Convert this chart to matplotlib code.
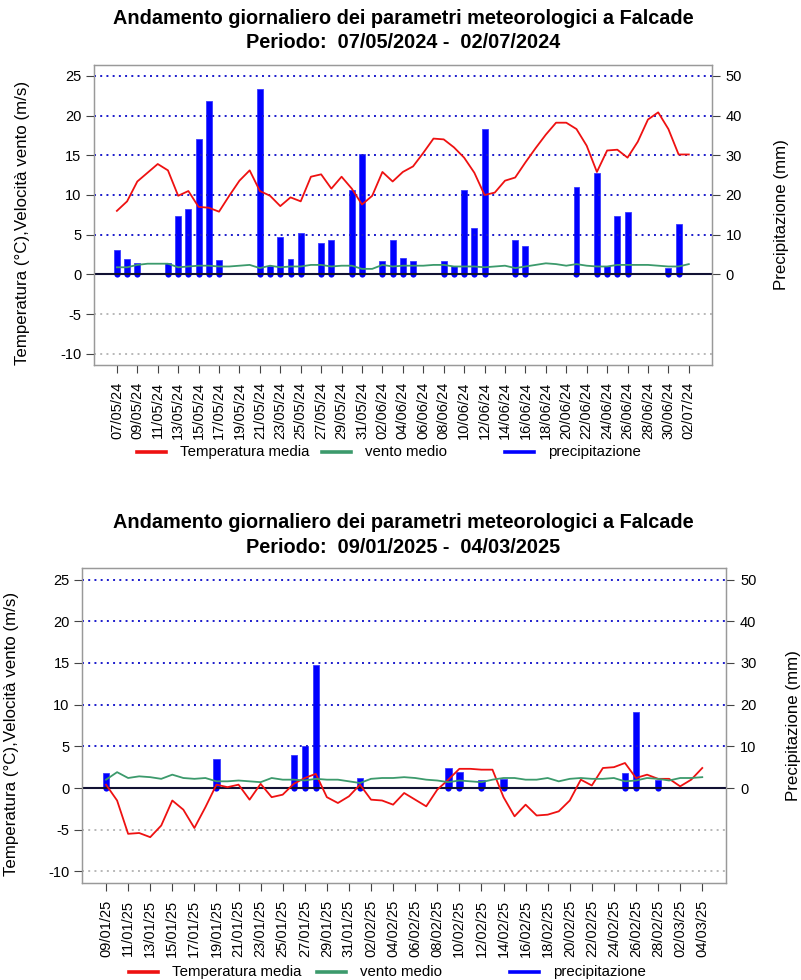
import pandas as pd
import matplotlib
matplotlib.use("Agg")
import matplotlib.pyplot as plt
from matplotlib.lines import Line2D

plt.rcParams['font.family'] = ['Liberation Sans', 'DejaVu Sans']

# periodo 1: 07/05/2024 - 02/07/2024
start_1 = "2024-05-07"
temp_1 = [8.0, 9.2, 11.7, 12.8, 13.9, 13.1, 9.9, 10.5, 8.5, 8.4,
          7.9, 9.9, 11.8, 13.1, 10.5, 9.9, 8.6, 9.7, 9.2, 12.3,
          12.6, 10.8, 12.3, 10.8, 8.8, 9.9, 12.9, 11.7, 12.9, 13.6,
          15.3, 17.1, 17.0, 16.0, 14.7, 12.8, 10.0, 10.3, 11.8, 12.2,
          14.1, 15.9, 17.6, 19.1, 19.1, 18.3, 16.2, 12.9, 15.6, 15.7,
          14.7, 16.7, 19.5, 20.4, 18.3, 15.1, 15.1]
vento_1 = [0.9, 0.9, 1.2, 1.35, 1.35, 1.35, 0.9, 1.0, 1.1, 1.1,
           1.0, 1.0, 1.1, 1.2, 0.8, 1.1, 0.9, 1.0, 1.0, 1.2,
           1.2, 1.0, 1.1, 1.1, 0.7, 0.7, 1.2, 1.0, 1.1, 1.1,
           1.1, 1.2, 1.2, 1.0, 1.0, 1.0, 0.9, 1.0, 1.1, 0.8,
           1.0, 1.2, 1.4, 1.3, 1.1, 1.3, 1.1, 1.0, 1.0, 1.2,
           1.2, 1.2, 1.2, 1.1, 1.0, 1.0, 1.3]
prec_1 = [6.1, 3.9, 2.9, 0, 0, 2.9, 14.7, 16.4, 34.2, 43.6,
          3.7, 0, 0, 0, 46.7, 2.2, 9.4, 3.9, 10.4, 0,
          7.8, 8.7, 0, 21.2, 30.2, 0, 3.4, 8.7, 4.1, 3.4,
          0, 0, 3.5, 2.2, 21.2, 11.6, 36.7, 0, 0, 8.6,
          7.1, 0, 0, 0, 0, 22.1, 0, 25.5, 2.1, 14.7,
          15.6, 0, 0, 0, 1.7, 12.6, 0]

# periodo 2: 09/01/2025 - 04/03/2025
start_2 = "2025-01-09"
temp_2 = [0.4, -1.5, -5.5, -5.4, -5.9, -4.5, -1.5, -2.6, -4.8, -2.3,
          0.4, 0.1, 0.4, -1.4, 0.5, -1.1, -0.8, 0.5, 1.2, 1.7,
          -1.1, -1.8, -1.0, 0.4, -1.4, -1.5, -2.0, -0.6, -1.4, -2.2,
          -0.2, 1.0, 2.3, 2.3, 2.2, 2.2, -1.1, -3.4, -2.0, -3.3,
          -3.2, -2.8, -1.5, 1.0, 0.3, 2.4, 2.5, 3.0, 1.2, 1.6,
          1.1, 1.1, 0.2, 1.0, 2.4]
vento_2 = [1.0, 1.9, 1.2, 1.4, 1.3, 1.1, 1.6, 1.2, 1.1, 1.2,
           0.8, 0.8, 0.9, 0.8, 0.7, 1.2, 1.0, 1.0, 0.9, 1.1,
           1.0, 1.0, 0.8, 0.6, 1.1, 1.2, 1.2, 1.3, 1.2, 1.0,
           0.9, 0.7, 0.9, 0.8, 0.7, 1.0, 1.2, 1.2, 1.0, 1.0,
           1.2, 0.8, 1.1, 1.2, 1.1, 1.1, 1.2, 0.8, 0.9, 1.2,
           1.1, 0.9, 1.2, 1.2, 1.3]
prec_2 = [3.5, 0, 0, 0, 0, 0, 0, 0, 0, 0,
          6.9, 0, 0, 0, 0, 0, 0, 8.0, 10.0, 29.6,
          0, 0, 0, 2.5, 0, 0, 0, 0, 0, 0,
          0, 4.7, 3.9, 0, 1.9, 0, 2.2, 0, 0, 0,
          0, 0, 0, 0, 0, 0, 0, 3.5, 18.3, 0,
          2.0, 0, 0, 0, 0]

title_1 = "Andamento giornaliero dei parametri meteorologici a Falcade"
periodo_1 = "Periodo:  07/05/2024 -  02/07/2024"
periodo_2 = "Periodo:  09/01/2025 -  04/03/2025"

W, H = 801, 980
fig = plt.figure(figsize=(W / 100, H / 100), dpi=100)


def fx(px):
    return px / W


def fy(py):
    return 1 - py / H


def panel(rect, start, temp, vento, prec, periodo, t_y, leg_y, leg_x, lab_x):
    n = len(temp)
    days = list(range(n))
    dates = pd.date_range(start, periods=n, freq="D")
    l, t, r, b = rect
    ax = fig.add_axes([fx(l), fy(b), fx(r) - fx(l), fy(t) - fy(b)])
    ax2 = ax.twinx()

    pad = 0.04 * (n - 1)
    ax.set_xlim(-pad, n - 1 + pad)
    ax.set_ylim(-11.4, 26.4)
    ax2.set_ylim(-22.8, 52.8)

    for v in [5, 10, 15, 20, 25]:
        ax.axhline(v, color="#1a1acc", lw=1.4, ls=(0, (1, 2.2)), zorder=1)
    for v in [-5, -10]:
        ax.axhline(v, color="#b8b8b8", lw=1.4, ls=(0, (1, 2.2)), zorder=1)
    ax.axhline(0, color="#111133", lw=1.5, zorder=2)

    ax2.bar(days, prec, width=0.58, color="#0000ff", edgecolor="#3a3aff",
            lw=0.6, zorder=3)
    # round foot of each rain bar, as in the original
    wet = [d for d in days if prec[d] > 0]
    ax2.scatter(wet, [0] * len(wet), s=20, color="#0000ff", lw=0, zorder=3)
    ax.plot(days, temp, color="#ee1111", lw=1.3, zorder=4)
    ax.plot(days, vento, color="#3c9a6c", lw=1.3, zorder=4)
    ax.set_zorder(ax2.get_zorder() + 1)
    ax.patch.set_visible(False)

    ax.set_yticks([-10, -5, 0, 5, 10, 15, 20, 25])
    ax.set_yticklabels(["-10", "-5", "0", "5", "10", "15", "20", "25"])
    ax2.set_yticks([0, 10, 20, 30, 40, 50])
    ticks = days[::2]
    ax.set_xticks(ticks)
    ax.set_xticklabels([dates[i].strftime("%d/%m/%y") for i in ticks],
                       rotation=90)
    for a in (ax, ax2):
        a.tick_params(axis="both", labelsize=10.5, length=6, width=0.8,
                      color="#444444", direction="out")
        for s in a.spines.values():
            s.set_color("#999999")
            s.set_linewidth(0.9)
    ax.tick_params(axis="x", pad=6)
    ax.tick_params(axis="y", pad=3)
    ax2.tick_params(axis="y", pad=4)

    ymid = fy((t + b) / 2)
    ax.set_ylabel("Temperatura (°C),Velocità vento (m/s)", fontsize=12.2)
    ax2.set_ylabel("Precipitazione (mm)", fontsize=12.2)
    ax.yaxis.set_label_coords(fx(lab_x[0]), fy((t + b) / 2 + 8),
                              transform=fig.transFigure)
    ax2.yaxis.set_label_coords(fx(lab_x[1]), ymid, transform=fig.transFigure)

    fig.text(0.503, fy(t_y), title_1, ha="center", va="center",
             fontsize=14.3, fontweight="bold")
    fig.text(0.503, fy(t_y + 24), periodo, ha="center", va="center",
             fontsize=14.3, fontweight="bold")

    names = ["Temperatura media", "vento medio", "precipitazione"]
    colors = ["#ee1111", "#3c9a6c", "#0000ff"]
    for x0, name, c in zip(leg_x, names, colors):
        fig.add_artist(Line2D([fx(x0), fx(x0 + 29)], [fy(leg_y), fy(leg_y)],
                              transform=fig.transFigure, color=c, lw=2.6))
        fig.text(fx(x0 + 43), fy(leg_y), name, ha="left", va="center",
                 fontsize=10.8)


panel((94, 64.7, 711.7, 365), start_1, temp_1, vento_1, prec_1, periodo_1,
      19, 452, [137, 322, 505], (30, 774))
panel((82.2, 568, 726.1, 883), start_2, temp_2, vento_2, prec_2, periodo_2,
      523, 972, [129, 317, 510], (19, 786))

fig.savefig("out.png", dpi=100)
